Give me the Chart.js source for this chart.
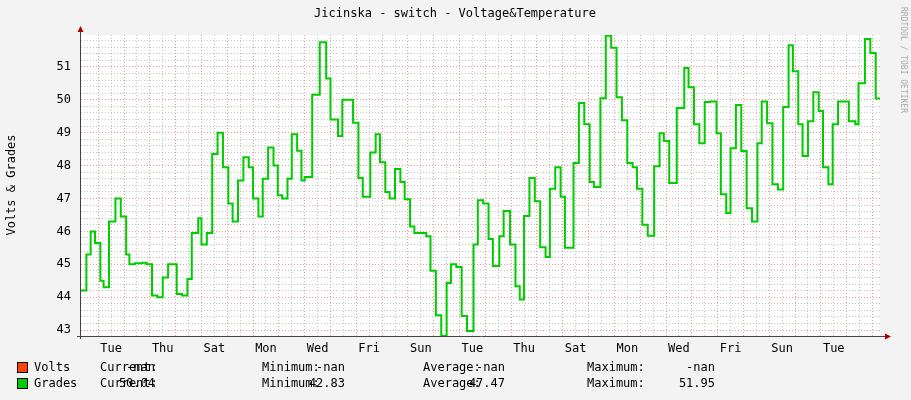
<!DOCTYPE html>
<html><head><meta charset="utf-8">
<script src="https://cdn.jsdelivr.net/npm/chart.js@4/dist/chart.umd.min.js"></script>
<style>html,body{margin:0;padding:0;background:#f3f3f3}#w{width:911px;height:400px;position:relative}</style>
</head><body><div id="w"><canvas id="c" width="911" height="400"></canvas></div>
<script>
const hours = [-16,-11,-7,-3,2,5,10,16,21,26,29,34,41,45,50,55,60,65,73,78,83,87,93,96,101,106,111,116,121,125,130,135,140,144,149,153,158,163,167,171,176,180,185,189,192,199,206,212,216,223,227,237,242,246,253,258,262,267,271,276,281,285,290,294,305,309,314,319,324,328,333,338,343,349,353,358,363,367,373,377,383,388,392,396,401,406,411,416,420,425,430,434,442,447,452,457,461,467,472,477,482,487,492,497,501,506,511,517,522,526,531,538,545,549,554,559,564,569,575,579,584,588,593,598,603,608,613,617,622,627,632,637,642,646,651,655,660,665,670,674,679,683,688,698,704,707,713,718,723,727];
const grades = [44.2,45.3,46.0,45.65,44.5,44.3,46.3,47.0,46.45,45.3,45.0,45.03,45.05,45.0,44.05,44.0,44.6,45.0,44.1,44.05,44.55,45.95,46.4,45.6,45.95,48.35,49.0,47.95,46.85,46.3,47.55,48.25,47.95,47.0,46.45,47.6,48.55,48.0,47.1,47.0,47.6,48.95,48.45,47.55,47.65,50.15,51.75,50.65,49.4,48.9,50.0,49.3,47.62,47.05,48.4,48.95,48.1,47.2,47.0,47.9,47.5,46.98,46.15,45.95,45.85,44.8,43.45,42.83,44.43,45.0,44.92,43.43,42.97,45.6,46.95,46.85,45.77,44.95,45.85,46.62,45.6,44.33,43.93,46.47,47.62,46.92,45.52,45.22,47.3,47.95,47.05,45.5,48.08,49.9,49.26,47.5,47.35,50.05,51.95,51.58,50.08,49.38,48.08,47.95,47.3,46.2,45.87,47.98,48.98,48.75,47.47,49.75,50.97,50.38,49.26,48.68,49.93,49.95,48.98,47.13,46.56,48.53,49.84,48.44,46.7,46.3,48.68,49.95,49.29,47.43,47.27,49.78,51.66,50.87,49.26,48.29,49.35,50.23,49.66,47.95,47.43,49.26,49.95,49.35,49.26,50.5,51.85,51.42,50.04,50.04];
const dayNames = ['Tue','Wed','Thu','Fri','Sat','Sun','Mon'];
const yTicks = [43,44,45,46,47,48,49,50,51];
const legendRows = [
 {name:'Volts', color:'#ff4400', cur:'-nan', min:'-nan', avg:'-nan', max:'-nan'},
 {name:'Grades', color:'#00cc00', cur:'50.04', min:'42.83', avg:'47.47', max:'51.95'}
];
const FONT = '"DejaVu Sans Mono", monospace';
const pts = hours.map((h,i)=>({x:h,y:grades[i]}));
const extras = {
 id:'extras',
 afterDraw(ch){
  const c=ch.ctx, a=ch.chartArea;
  c.save();
  c.fillStyle='#000'; c.font='12px '+FONT; c.textAlign='center'; c.textBaseline='middle';
  c.fillText('Jicinska - switch - Voltage&Temperature', 455, 14);
  c.save(); c.translate(12, 185); c.rotate(-Math.PI/2); c.fillText('Volts & Grades',0,0); c.restore();
  c.save(); c.translate(903, 60); c.rotate(Math.PI/2); c.fillStyle='#aaa'; c.font='8px '+FONT; c.fillText('RRDTOOL / TOBI OETIKER',0,0); c.restore();
  c.strokeStyle='#444'; c.lineWidth=1;
  c.beginPath(); c.moveTo(a.left-0.5, a.bottom+3); c.lineTo(a.left-0.5, a.top-4); c.moveTo(a.left-4, a.bottom+0.5); c.lineTo(a.right+6, a.bottom+0.5); c.stroke();
  c.fillStyle='#a00';
  c.beginPath(); c.moveTo(a.left-3.5,a.top-3); c.lineTo(a.left+2.5,a.top-3); c.lineTo(a.left-0.5,a.top-9); c.fill();
  c.beginPath(); c.moveTo(a.right+5,a.bottom-2.5); c.lineTo(a.right+5,a.bottom+3.5); c.lineTo(a.right+11,a.bottom+0.5); c.fill();
  c.font='12px '+FONT;
  legendRows.forEach((r,i)=>{
   const y=368+i*16;
   c.fillStyle=r.color; c.fillRect(18,y-5,10,10); c.strokeStyle='#000'; c.strokeRect(17.5,y-5.5,10,10);
   c.fillStyle='#000'; c.textAlign='left';
   c.fillText(r.name,34,y); c.fillText('Current:',100,y); c.fillText('Minimum:',262,y); c.fillText('Average:',423,y); c.fillText('Maximum:',587,y);
   c.textAlign='right';
   c.fillText(r.cur,155,y); c.fillText(r.min,345,y); c.fillText(r.avg,505,y); c.fillText(r.max,715,y);
  });
  c.restore();
 }
};
new Chart(document.getElementById('c'),{
 type:'line',
 data:{datasets:[{data:pts, stepped:'before', borderColor:'#00cc00', borderWidth:2, pointRadius:0, fill:false}]},
 options:{
  responsive:false, animation:false, devicePixelRatio:1,
  layout:{padding:{top:35,right:31,bottom:0,left:0}},
  plugins:{legend:{display:false},tooltip:{enabled:false}},
  scales:{
   x:{type:'linear', min:-16, max:727, border:{display:false, dash:[1,2]},
      afterBuildTicks(ax){const t=[];for(let v=0;v<=727;v+=12)t.push({value:v});ax.ticks=t;},
      afterFit(ax){ax.height=64;},
      grid:{color:ctx=>ctx.tick&&ctx.tick.value%24===0?'rgba(230,110,110,0.7)':'rgba(160,160,160,0.6)', drawTicks:false, lineWidth:1},
      ticks:{padding:6, color:'#000', font:{family:FONT,size:12}, maxRotation:0, autoSkip:false,
        callback:v=>((v-12)%48===0)?dayNames[((v-12)/24)%7]:''}},
   y:{min:42.82, max:51.97, border:{display:false, dash:[1,2]},
      afterBuildTicks(ax){const t=[];for(let v=43;v<=51.9;v+=0.2)t.push({value:Math.round(v*10)/10});ax.ticks=t;},
      afterFit(ax){ax.width=81;},
      grid:{color:ctx=>ctx.tick&&Number.isInteger(ctx.tick.value)?'rgba(230,110,110,0.7)':'rgba(160,160,160,0.6)', drawTicks:false},
      ticks:{padding:10, color:'#000', font:{family:FONT,size:12}, autoSkip:false,
        callback:v=>yTicks.includes(v)?String(v):''}}
  }
 },
 plugins:[{id:'bg',beforeDraw(ch){const c=ch.ctx,a=ch.chartArea;c.save();c.fillStyle='#f3f3f3';c.fillRect(0,0,911,400);c.fillStyle='#fff';c.fillRect(a.left,a.top,a.right-a.left,a.bottom-a.top);c.restore();}}, extras]
});
</script></body></html>
